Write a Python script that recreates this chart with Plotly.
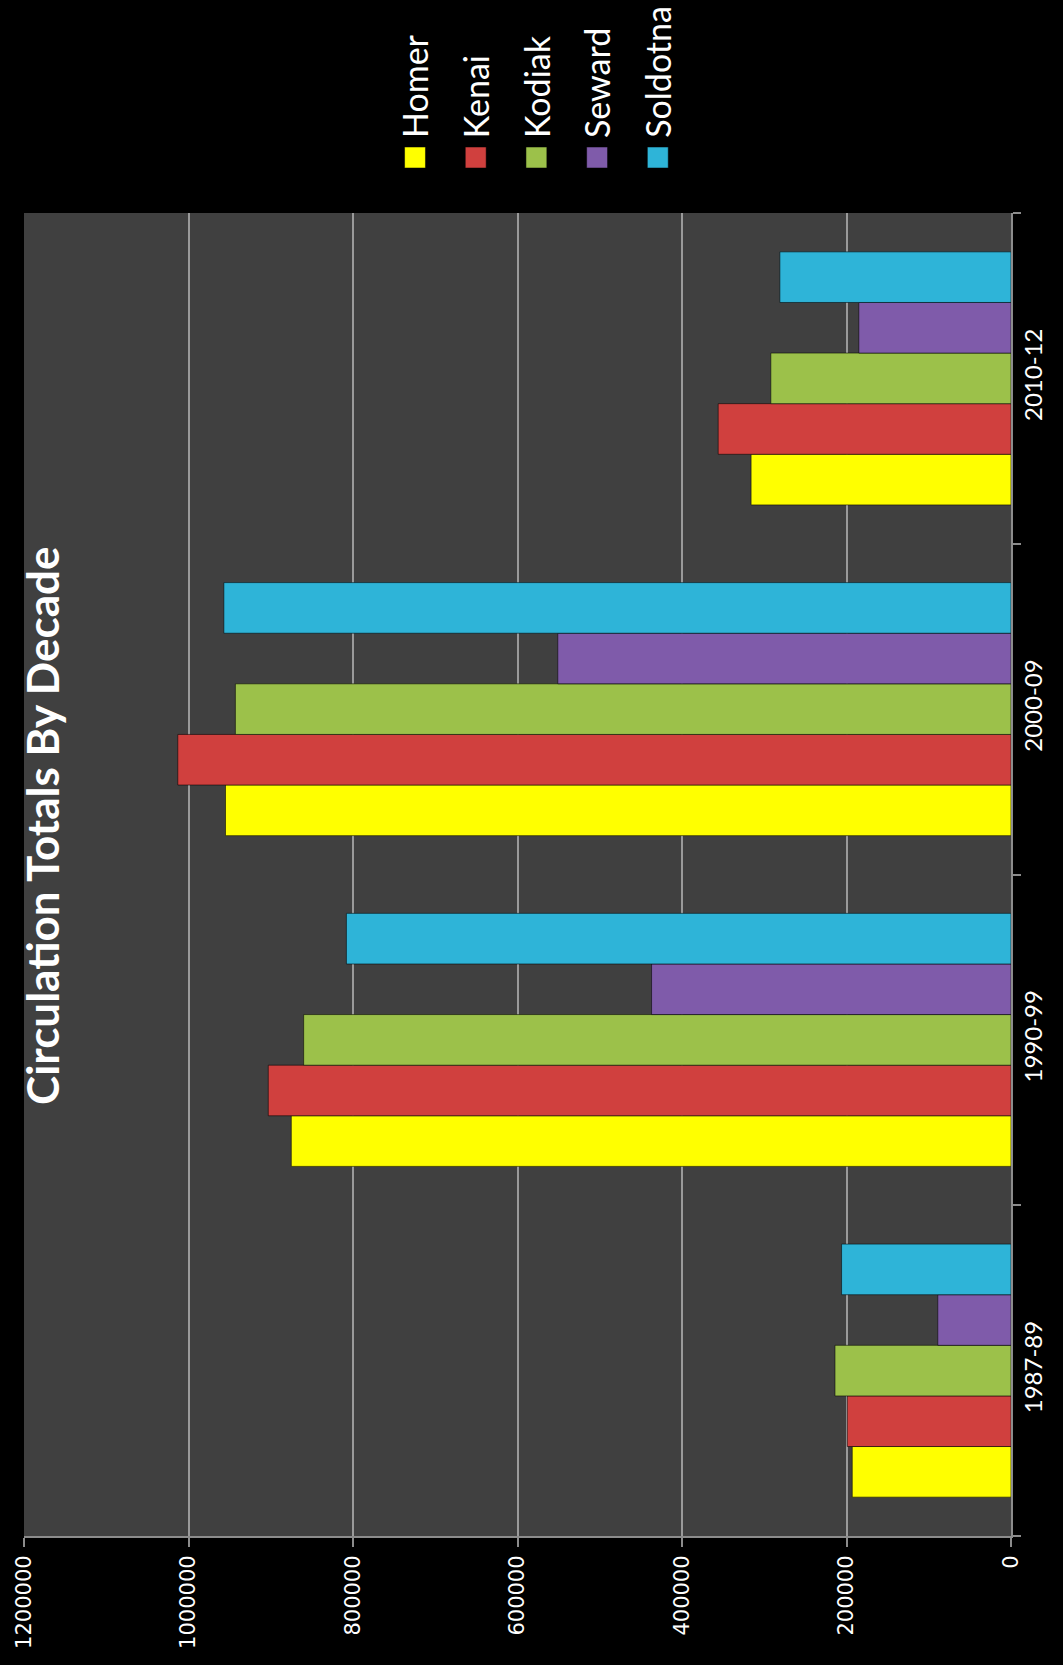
import plotly.graph_objects as go

# ---- data ----
categories = ["1987-89", "1990-99", "2000-09", "2010-12"]
series_names = ["Homer", "Kenai", "Kodiak", "Seward", "Soldotna"]
homer = [193000, 875000, 955000, 316000]
kenai = [199000, 903000, 1013000, 356000]
kodiak = [214000, 860000, 943000, 292000]
seward = [89000, 437000, 551000, 185000]
soldotna = [206000, 808000, 957000, 281000]
value_ticks = [0, 200000, 400000, 600000, 800000, 1000000, 1200000]
title_text = "Circulation Totals By Decade"

series_values = [homer, kenai, kodiak, seward, soldotna]
colors = ["#FFFF00", "#D0403E", "#9CC14A", "#7F5BAA", "#2EB4D8"]

# ---- layout geometry ----
W, H = 1063, 1665
L, R, T, B = 19, 52, 213, 129
PW, PH = W - L - R, H - T - B


def px_x(px):
    return (px - L) / PW


def px_y(py):
    return (H - B - py) / PH


fig = go.Figure()
for name, vals, color in zip(series_names, series_values, colors):
    fig.add_trace(go.Bar(
        y=categories, x=vals, name=name, orientation="h",
        marker=dict(color=color, line=dict(color="rgba(0,0,0,0.55)", width=1)),
    ))

fig.update_layout(
    width=W, height=H,
    margin=dict(l=L, r=R, t=T, b=B, pad=0),
    paper_bgcolor="#000000",
    plot_bgcolor="#404040",
    barmode="group",
    bargap=0.235,
    bargroupgap=0,
    showlegend=False,
    xaxis=dict(
        range=[max(value_ticks), 0],
        tickvals=value_ticks,
        ticktext=[str(v) for v in value_ticks],
        tickangle=-90,
        tickfont=dict(family="DejaVu Sans", size=21, color="#ffffff"),
        showgrid=True, gridcolor="#9a9a9a", gridwidth=1.5,
        showline=True, linecolor="#8c8c8c", linewidth=2,
        ticks="outside", ticklen=9, tickcolor="#8c8c8c", tickwidth=2,
        zeroline=False,
    ),
    yaxis=dict(
        type="category",
        categoryorder="array", categoryarray=categories,
        side="right",
        tickangle=-90,
        tickson="boundaries",
        ticks="outside", ticklen=8, tickcolor="#8c8c8c", tickwidth=2,
        showline=True, linecolor="#8c8c8c", linewidth=2,
        showgrid=False,
        tickfont=dict(family="Lato", size=24, color="#ffffff"),
    ),
)

# title (rotated)
fig.add_annotation(
    text="<b>" + title_text + "</b>",
    xref="paper", yref="paper", x=px_x(37), y=px_y(826),
    xanchor="center", yanchor="middle", textangle=-90, showarrow=False,
    font=dict(family="Lato", size=44, color="#ffffff"),
)

# legend (rotated, drawn manually)
leg_x0, leg_dx = 412, 61
sq = 21
sq_top = 147
for i, (name, color) in enumerate(zip(series_names, colors)):
    cx = leg_x0 + i * leg_dx
    fig.add_shape(
        type="rect", xref="paper", yref="paper",
        x0=px_x(cx - sq / 2), x1=px_x(cx + sq / 2),
        y0=px_y(sq_top + sq), y1=px_y(sq_top),
        fillcolor=color, line=dict(color="rgba(0,0,0,0.5)", width=1),
    )
    fig.add_annotation(
        text=name, xref="paper", yref="paper",
        x=px_x(cx), y=px_y(140),
        xanchor="center", yanchor="bottom", textangle=-90, showarrow=False,
        font=dict(family="Lato", size=34, color="#ffffff"),
    )

fig.write_html("out.html")
